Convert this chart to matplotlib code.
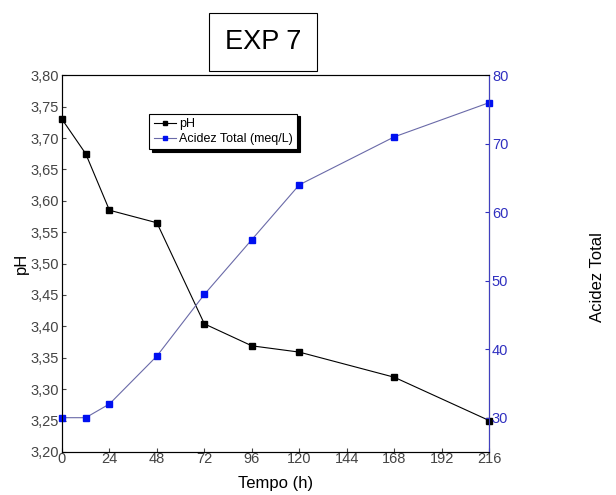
import matplotlib
matplotlib.use("Agg")
import matplotlib.pyplot as plt
import matplotlib.ticker as ticker

plt.rcParams["font.family"] = ["Liberation Sans", "DejaVu Sans"]

tempo = [0, 12, 24, 48, 72, 96, 120, 168, 216]
ph = [3.73, 3.675, 3.585, 3.565, 3.404, 3.369, 3.359, 3.319, 3.25]
acidez = [30, 30, 32, 39, 48, 56, 64, 71, 76]

ph_ticks = [3.20, 3.25, 3.30, 3.35, 3.40, 3.45, 3.50, 3.55, 3.60, 3.65, 3.70, 3.75, 3.80]
acidez_ticks = [30, 40, 50, 60, 70, 80]
tempo_ticks = [0, 24, 48, 72, 96, 120, 144, 168, 192, 216]

fig = plt.figure(figsize=(6.16, 4.95), dpi=100)
ax = fig.add_axes([0.1006, 0.087, 0.6935, 0.761])
ax2 = ax.twinx()

l1, = ax.plot(tempo, ph, color="black", lw=0.8, marker="s", ms=5,
              mfc="black", mec="black", label="pH", clip_on=False, zorder=3)
l2, = ax2.plot(tempo, acidez, color="#6a6aa8", lw=0.8, marker="s", ms=5,
               mfc="#0010f0", mec="#0010f0", label="Acidez Total (meq/L)", clip_on=False)

ax.set_xlim(0, 216)
ax.set_ylim(3.20, 3.80)
ax2.set_ylim(25, 80)
ax.set_xticks(tempo_ticks)
ax.set_yticks(ph_ticks)
ax2.set_yticks(acidez_ticks)
ax.yaxis.set_major_formatter(ticker.FuncFormatter(lambda v, p: f"{v:.2f}".replace(".", ",")))

ax.tick_params(direction="in", labelsize=10.5, colors="#444444", length=3, pad=2)
ax.tick_params(axis="x", pad=0)
ax2.tick_params(direction="in", labelsize=10.5, colors="#3030c0", length=3, pad=2)
ax2.spines["right"].set_color("#4040c0")
for s in ["top", "left", "bottom"]:
    ax.spines[s].set_color("#333333")

ax.set_xlabel("Tempo (h)", fontsize=12, labelpad=7)
ax.set_ylabel("pH", fontsize=12, labelpad=1)
ax2.set_ylabel("Acidez Total", fontsize=12)
ax2.yaxis.set_label_coords(1.235, 0.464)

leg = ax.legend([l1, l2], ["pH", "Acidez Total (meq/L)"], loc="upper left",
                bbox_to_anchor=(0.19, 0.915), fontsize=9, frameon=True, fancybox=False,
                shadow={"color": "black", "alpha": 1.0}, borderpad=0.35, markerscale=0.7,
                handlelength=1.8, handletextpad=0.2, labelspacing=0.25)
leg.get_frame().set_edgecolor("black")
leg.get_frame().set_linewidth(0.8)

fig.text(0.427, 0.915, "EXP 7", fontsize=19.5, ha="center", va="center",
         bbox=dict(boxstyle="square,pad=0.6", fc="white", ec="black", lw=0.8))

fig.savefig("out.png", dpi=100)
